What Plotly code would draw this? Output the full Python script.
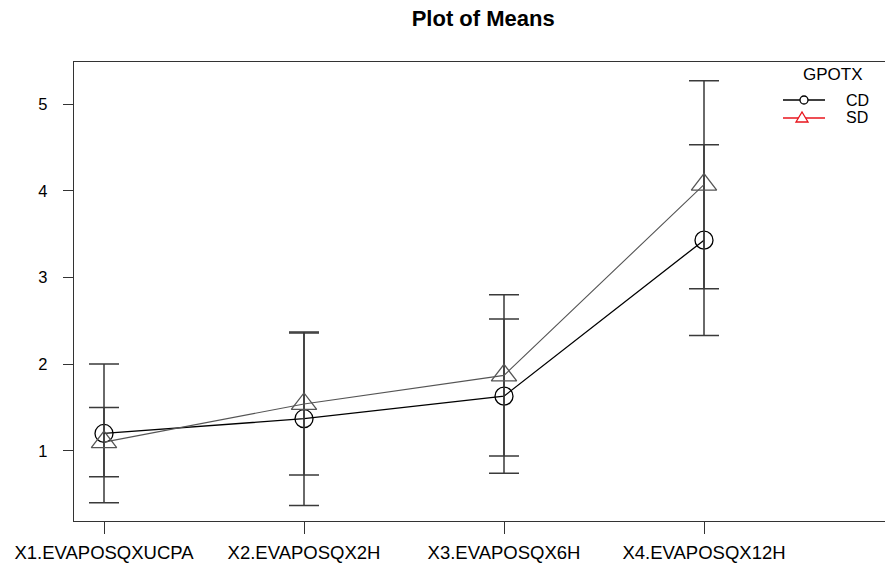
import plotly.graph_objects as go

categories = ["X1.EVAPOSQXUCPA", "X2.EVAPOSQX2H", "X3.EVAPOSQX6H", "X4.EVAPOSQX12H"]
x_pos = [1, 2, 3, 4]
cd_mean = [1.20, 1.37, 1.63, 3.43]
cd_err = [0.80, 1.00, 0.89, 1.10]
sd_mean = [1.10, 1.54, 1.87, 4.07]
sd_err = [0.40, 0.82, 0.93, 1.20]
y_ticks = [1, 2, 3, 4, 5]
legend_title = "GPOTX"
legend_names = ["CD", "SD"]

FONT = "Liberation Sans, Arial, sans-serif"
ERR_COLOR = "#3a3a3a"

W, H = 885, 573
ML, MR, MT, MB = 74, 0, 62, 52
PW, PH = W - ML - MR, H - MT - MB


def px(x):
    return (x - ML) / PW


def py(y):
    return (H - MB - y) / PH


fig = go.Figure()

fig.add_trace(go.Scatter(
    x=x_pos, y=cd_mean, mode="lines+markers", name="CD", showlegend=False,
    line=dict(color="black", width=1.3),
    marker=dict(symbol="circle-open", size=18, color="black", line=dict(width=1.3)),
    error_y=dict(type="data", array=cd_err, visible=True, color=ERR_COLOR, thickness=1.5, width=15),
))
fig.add_trace(go.Scatter(
    x=x_pos, y=sd_mean, mode="lines+markers", name="SD", showlegend=False,
    line=dict(color="#555555", width=1.1),
    marker=dict(symbol="triangle-up-open", size=22, color="#555555", line=dict(width=1.3)),
    error_y=dict(type="data", array=sd_err, visible=True, color=ERR_COLOR, thickness=1.5, width=15),
))

# manual legend
shapes = []
annotations = []
annotations.append(dict(text=legend_title, x=px(833), y=py(74), xref="paper", yref="paper",
                        xanchor="center", yanchor="middle", showarrow=False,
                        font=dict(family=FONT, size=17, color="black")))
leg = [
    (legend_names[0], "black", 100, "circle"),
    (legend_names[1], "#e8141c", 118, "triangle"),
]
for name, col, yy, sym in leg:
    shapes.append(dict(type="line", xref="paper", yref="paper", x0=px(783), x1=px(825),
                       y0=py(yy), y1=py(yy), line=dict(color=col, width=1.3)))
    if sym == "circle":
        shapes.append(dict(type="circle", xref="paper", yref="paper", xsizemode="pixel", ysizemode="pixel",
                           xanchor=px(804), yanchor=py(yy), x0=-4, x1=4, y0=-4, y1=4,
                           line=dict(color=col, width=1.3), fillcolor="white"))
    else:
        shapes.append(dict(type="path", xref="paper", yref="paper", xsizemode="pixel", ysizemode="pixel",
                           xanchor=px(802), yanchor=py(yy), path="M -6 -4 L 6 -4 L 0 6 Z",
                           line=dict(color=col, width=1.3), fillcolor="white"))
    annotations.append(dict(text=name, x=px(845), y=py(yy), xref="paper", yref="paper",
                            xanchor="left", yanchor="middle", showarrow=False, borderpad=0,
                            font=dict(family=FONT, size=16, color="black")))

fig.update_layout(
    width=W, height=H,
    margin=dict(l=ML, r=MR, t=MT, b=MB),
    paper_bgcolor="white", plot_bgcolor="white",
    font=dict(family=FONT, size=17, color="black"),
    title=dict(text="<b>Plot of Means</b>", x=0.546, xanchor="center", y=1 - 18 / H, yanchor="middle",
               font=dict(family=FONT, size=22, color="black")),
    showlegend=False,
    shapes=shapes,
    annotations=annotations,
    xaxis=dict(
        range=[0.85, 4.905], tickmode="array", tickvals=x_pos, ticktext=categories,
        showgrid=False, zeroline=False, showline=True, linecolor="#333333", linewidth=1.3,
        mirror=True, ticks="outside", ticklen=12, tickcolor="#333333", tickwidth=1.2,
        ticklabelstandoff=3, tickfont=dict(size=18.5),
    ),
    yaxis=dict(
        range=[0.19, 5.485], tickmode="array", tickvals=y_ticks,
        showgrid=False, zeroline=False, showline=True, linecolor="#333333", linewidth=1.3,
        mirror=False, ticks="outside", ticklen=10, tickcolor="#333333", tickwidth=1.2,
        ticklabelstandoff=12, tickfont=dict(size=16.5),
    ),
)

fig.write_html("out.html")
